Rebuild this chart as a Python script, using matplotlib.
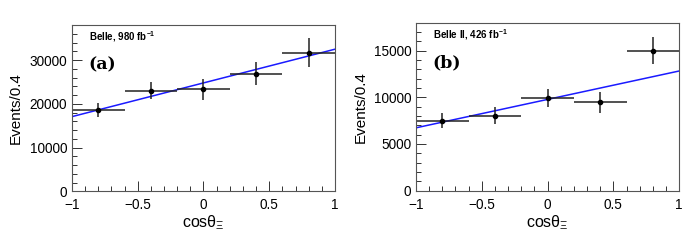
import numpy as np
import matplotlib.pyplot as plt
from matplotlib.ticker import MultipleLocator

plt.rcParams['font.family'] = ['Liberation Sans', 'DejaVu Sans']
plt.rcParams['mathtext.fontset'] = 'custom'
plt.rcParams['mathtext.rm'] = 'Liberation Sans'
plt.rcParams['mathtext.it'] = 'Liberation Sans'
plt.rcParams['mathtext.bf'] = 'Liberation Sans:bold'

# bin centres and half widths
x = [-0.8, -0.4, 0.0, 0.4, 0.8]
xerr = [0.2, 0.2, 0.2, 0.2, 0.2]

# Belle
belle_y = [18600, 22950, 23340, 26910, 31720]
belle_err = [1700, 1950, 2400, 2670, 3360]
belle_fit = [17070, 32490]  # fit line at cos = -1 and 1

# Belle II
belle2_y = [7490, 8020, 9920, 9450, 14970]
belle2_err = [800, 900, 1000, 1130, 1450]
belle2_fit = [6730, 12820]

fit_x = [-1, 1]

fig = plt.figure(figsize=(6.98, 2.41), dpi=100)
ax1 = fig.add_axes([0.103, 0.206, 0.377, 0.690])
ax2 = fig.add_axes([0.596, 0.209, 0.377, 0.697])


def style(ax, ymax, major, minor, label, tag):
    ax.set_xlim(-1, 1)
    ax.set_ylim(0, ymax)
    ax.xaxis.set_major_locator(MultipleLocator(0.5))
    ax.xaxis.set_minor_locator(MultipleLocator(0.1))
    ax.yaxis.set_major_locator(MultipleLocator(major))
    ax.yaxis.set_minor_locator(MultipleLocator(minor))
    ax.tick_params(which='both', direction='in', top=False, right=False,
                   labelsize=9.8, color='#333333', width=0.7)
    ax.tick_params(axis='y', pad=3.5)
    ax.tick_params(axis='x', pad=5)
    ax.tick_params(which='major', length=7)
    ax.tick_params(which='minor', length=3.5)
    ax.xaxis.set_major_formatter(plt.FuncFormatter(lambda v, p: f"{v:g}".replace('-', '\u2212')))
    for s in ax.spines.values():
        s.set_color('#555555')
        s.set_linewidth(0.8)
    ax.set_xlabel(r'cos$\theta_{\Xi}$', fontsize=11.5, labelpad=1)
    ax.set_ylabel('Events/0.4', fontsize=11)
    ax.text(0.065, 0.93, label, transform=ax.transAxes, fontsize=7,
            fontweight='bold', va='center', ha='left')
    ax.text(0.062, 0.76, tag, transform=ax.transAxes, fontsize=12.5,
            fontweight='bold', va='center', ha='left', family='DejaVu Serif')


ax1.plot(fit_x, belle_fit, color='#1a1aff', lw=1.1)
ax1.errorbar(x, belle_y, xerr=xerr, yerr=belle_err, fmt='o', color='black',
             ecolor='#222222', ms=3, elinewidth=1.1, capsize=0)
style(ax1, 38000, 10000, 2000, r'Belle, 980 fb$^{\mathbf{-1}}$', '(a)')

ax2.plot(fit_x, belle2_fit, color='#1a1aff', lw=1.1)
ax2.errorbar(x, belle2_y, xerr=xerr, yerr=belle2_err, fmt='o', color='black',
             ecolor='#222222', ms=3, elinewidth=1.1, capsize=0)
style(ax2, 18000, 5000, 1000, r'Belle II, 426 fb$^{\mathbf{-1}}$', '(b)')

ax1.yaxis.set_label_coords(-0.186, 0.5)
ax2.yaxis.set_label_coords(-0.184, 0.5)

fig.savefig('out.png', dpi=100)
